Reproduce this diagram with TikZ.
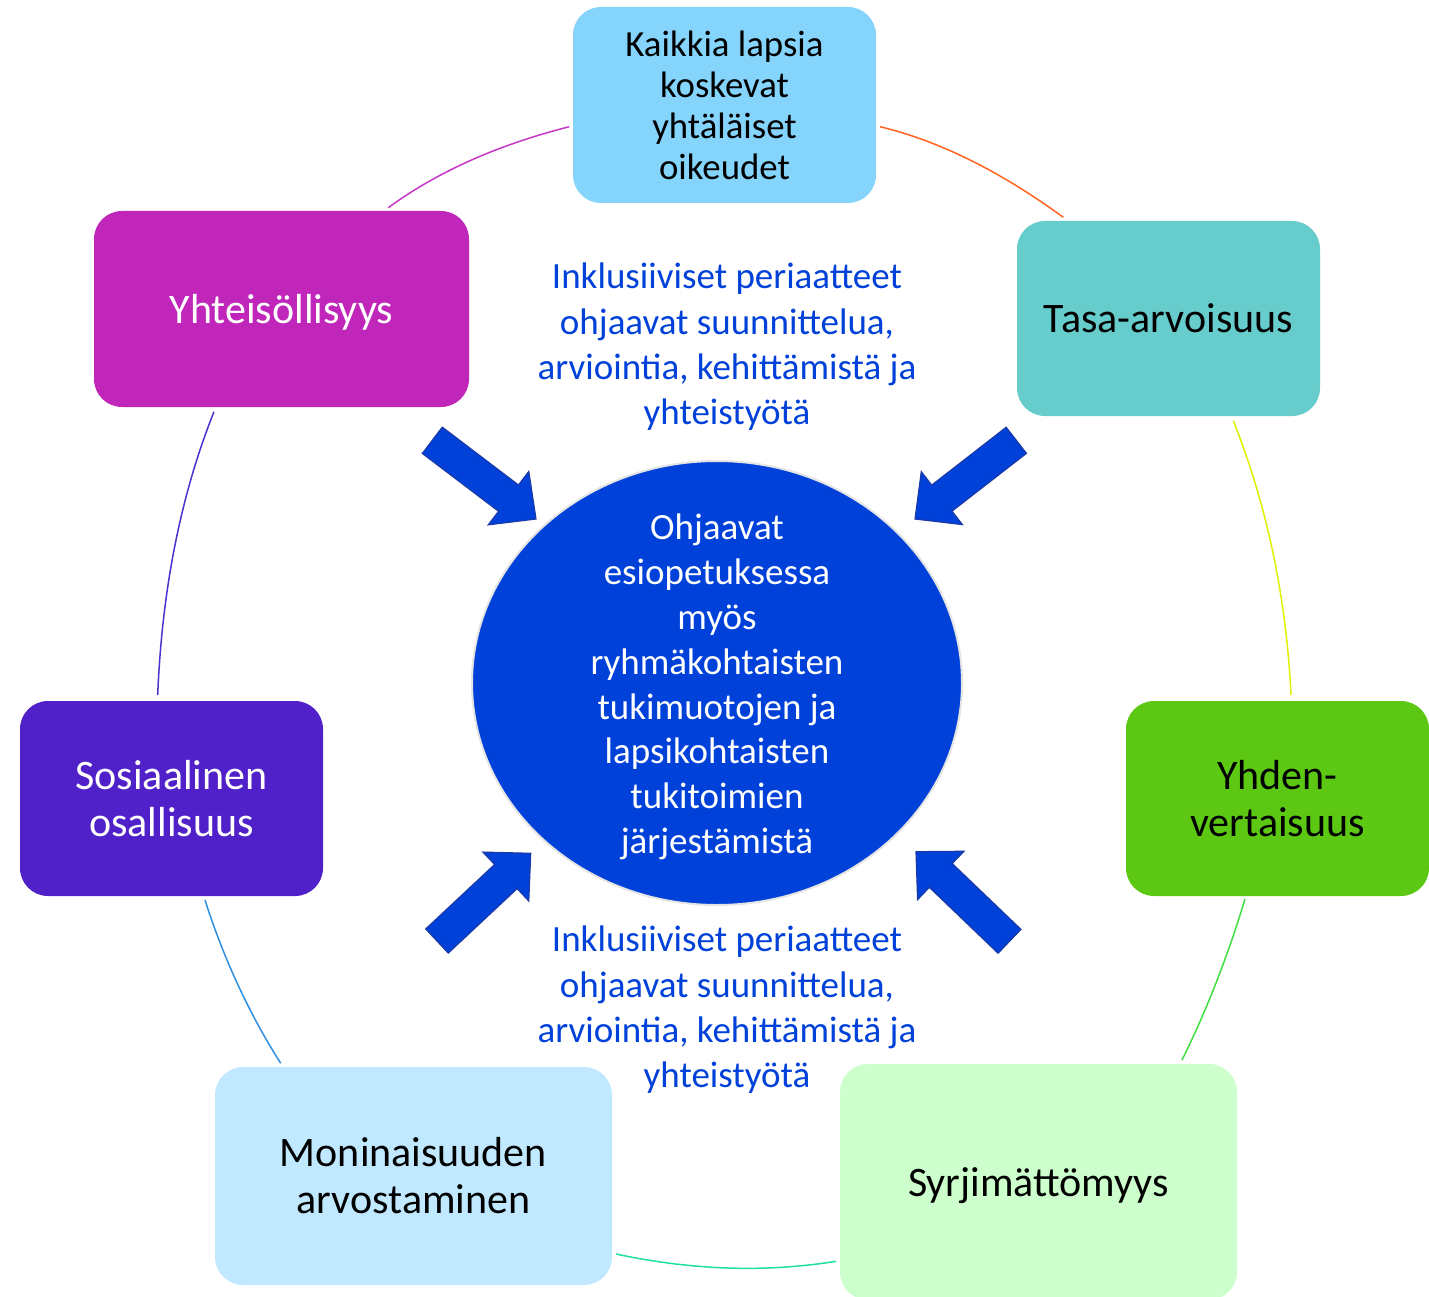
\documentclass[tikz,border=0pt]{standalone}
\usepackage{fontspec}
\setmainfont{Carlito}
\usetikzlibrary{calc,shapes.geometric}
\definecolor{ctop}{HTML}{84D4FC}
\definecolor{cyht}{HTML}{C026B9}
\definecolor{ctasa}{HTML}{66CCCC}
\definecolor{csos}{HTML}{5020C8}
\definecolor{cyhd}{HTML}{5CC814}
\definecolor{cmon}{HTML}{C0E8FF}
\definecolor{csyr}{HTML}{CCFFCC}
\definecolor{cblue}{HTML}{0041D9}
\definecolor{cblueline}{HTML}{1A3AA8}
\definecolor{cgrayline}{HTML}{E4E4E4}
\definecolor{ra}{HTML}{C838C8}
\definecolor{rb}{HTML}{FF6420}
\definecolor{rc}{HTML}{5030D0}
\definecolor{rd}{HTML}{E0F000}
\definecolor{re}{HTML}{3090E0}
\definecolor{rf}{HTML}{20E0A0}
\definecolor{rg}{HTML}{40E040}
\newcommand\myblockarrow[2]{%
  \coordinate (ba-s) at ($(#1)!0.735!(#2)$);
  \draw[bluearrow] ($(#1)!16.5pt!90:(#2)$) -- ($(ba-s)!16.5pt!90:(#2)$) -- ($(ba-s)!33.5pt!90:(#2)$) -- (#2) -- ($(ba-s)!33.5pt!-90:(#2)$) -- ($(ba-s)!16.5pt!-90:(#2)$) -- ($(#1)!16.5pt!-90:(#2)$) -- cycle;
}
% ring segment through start, middle, end (quadratic curve)
\newcommand\myringarc[4]{%
  \coordinate (rq) at ($2*(#3)-0.5*(#2)-0.5*(#4)$);
  \draw[ring, #1] (#2) .. controls ($(#2)!0.6667!(rq)$) and ($(#4)!0.6667!(rq)$) .. (#4);
}
\begin{document}
\begin{tikzpicture}[x=1pt,y=-1pt,
  box/.style={rectangle, rounded corners=28pt, inner sep=0pt, align=center, font=\fontsize{42}{47}\selectfont},
  ring/.style={line width=1.5pt},
  bluearrow/.style={fill=cblue, draw=cblueline, line width=1.2pt, line join=miter},
  bluetext/.style={align=center, text=cblue, font=\fontsize{37}{45.3}\selectfont, inner sep=0pt}]
\useasboundingbox (0,0) rectangle (1429,1297);
\clip (0,0) rectangle (1429,1297);
\fill[white] (0,0) rectangle (1429,1297);

% ring segments
\coordinate (c1s) at (388.3,207.7); \coordinate (c1m) at (470,160.7); \coordinate (c1e) at (569.3,126.7);
\coordinate (c2s) at (880,126.7); \coordinate (c2m) at (970,160); \coordinate (c2e) at (1063.3,217.3);
\coordinate (c3s) at (214,411.7); \coordinate (c3m) at (175,545); \coordinate (c3e) at (157.7,695);
\coordinate (c4s) at (1233.3,420.7); \coordinate (c4m) at (1273,553); \coordinate (c4e) at (1291,695);
\coordinate (c5s) at (205,900); \coordinate (c5m) at (238,985); \coordinate (c5e) at (280.7,1063.3);
\coordinate (c6s) at (616,1254); \coordinate (c6m) at (728,1268); \coordinate (c6e) at (836,1261.3);
\coordinate (c7s) at (1245,899); \coordinate (c7m) at (1216,983); \coordinate (c7e) at (1182,1060);
\myringarc{ra}{c1s}{c1m}{c1e}
\myringarc{rb}{c2s}{c2m}{c2e}
\myringarc{rc}{c3s}{c3m}{c3e}
\myringarc{rd}{c4s}{c4m}{c4e}
\myringarc{re}{c5s}{c5m}{c5e}
\myringarc{rf}{c6s}{c6m}{c6e}
\myringarc{rg}{c7s}{c7m}{c7e}

% boxes
\node[box, fill=ctop, minimum width=303pt, minimum height=196pt, font=\fontsize{36.8}{41}\selectfont, text depth=0pt] (top) at (724.5,105) {Kaikkia lapsia\\koskevat\\yhtäläiset\\oikeudet};
\node[box, fill=cyht, text=white, minimum width=375pt, minimum height=196pt, text depth=0pt] (yht) at (281.5,309) {Yhteisöllisyys};
\node[box, fill=ctasa, minimum width=303pt, minimum height=195pt] (tasa) at (1168.5,318.5) {Tasa-arvoisuus};
\node[box, fill=csos, text=white, minimum width=303pt, minimum height=195pt] (sos) at (171.5,798.5) {Sosiaalinen\\osallisuus};
\node[box, fill=cyhd, minimum width=303pt, minimum height=195pt] (yhd) at (1277.5,798.5) {Yhden-\\vertaisuus};
\node[box, fill=cmon, minimum width=397pt, minimum height=218pt] (mon) at (413.5,1176) {Moninaisuuden\\arvostaminen};
\node[box, fill=csyr, minimum width=397pt, minimum height=236pt, text depth=0pt] (syr) at (1038.5,1182) {Syrjimättömyys};

% centre
\node[ellipse, fill=cblue, draw=cgrayline, line width=2pt, minimum width=490pt, minimum height=444pt, inner sep=0pt] (mid) at (717,683) {};
\node[text=white, align=center, inner sep=0pt, font=\fontsize{37}{44.8}\selectfont] (midtext) at (717,687) {Ohjaavat\\esiopetuksessa\\myös\\ryhmäkohtaisten\\tukimuotojen ja\\lapsikohtaisten\\tukitoimien\\järjestämistä};

% blue texts
\node[bluetext] (t1) at (727,347) {Inklusiiviset periaatteet\\ohjaavat suunnittelua,\\arviointia, kehittämistä ja\\yhteistyötä};
\node[bluetext] (t2) at (727,1010) {Inklusiiviset periaatteet\\ohjaavat suunnittelua,\\arviointia, kehittämistä ja\\yhteistyötä};

% block arrows
\coordinate (a1t) at (432.3,440.3); \coordinate (a1p) at (536,519);
\coordinate (a2t) at (1016.3,440.3); \coordinate (a2p) at (915,519);
\coordinate (a3t) at (437,941); \coordinate (a3p) at (530.7,853.3);
\coordinate (a4t) at (1009.5,941.3); \coordinate (a4p) at (916,851.7);
\myblockarrow{a1t}{a1p}
\myblockarrow{a2t}{a2p}
\myblockarrow{a3t}{a3p}
\myblockarrow{a4t}{a4p}
\end{tikzpicture}
\end{document}
